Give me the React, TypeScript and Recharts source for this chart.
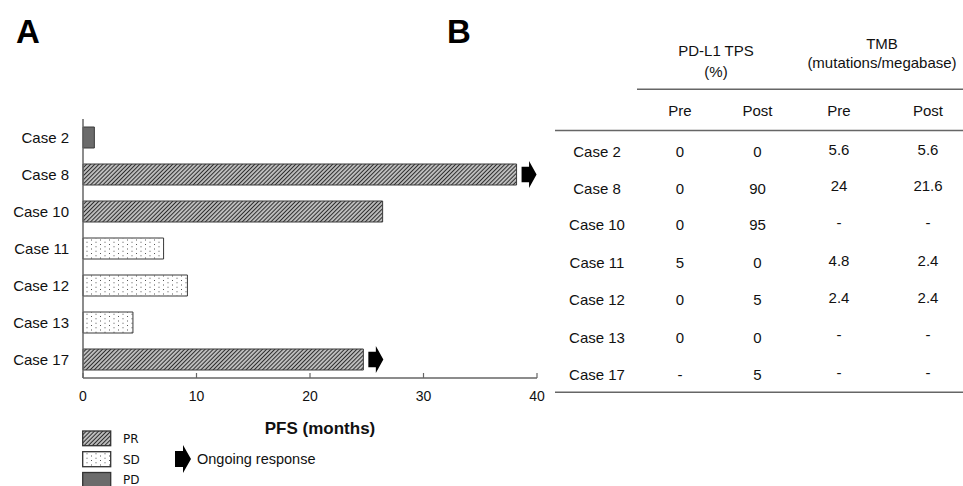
import React from "react";
import { BarChart, Bar, XAxis, YAxis, Cell, LabelList } from "recharts";

// ---- Data ----
const caseNames = ["Case 2", "Case 8", "Case 10", "Case 11", "Case 12", "Case 13", "Case 17"];
const pfsMonths = [1.0, 38.2, 26.4, 7.1, 9.2, 4.4, 24.7];
const responses = ["PD", "PR", "PR", "SD", "SD", "SD", "PR"];
const ongoing = [false, true, false, false, false, false, true];
const xTicks = [0, 10, 20, 30, 40];

const pdl1Pre = ["0", "0", "0", "5", "0", "0", "-"];
const pdl1Post = ["0", "90", "95", "0", "5", "0", "5"];
const tmbPre = ["5.6", "24", "-", "4.8", "2.4", "-", "-"];
const tmbPost = ["5.6", "21.6", "-", "2.4", "2.4", "-", "-"];

const legendItems = ["PR", "SD", "PD"];

const chartData = caseNames.map((name, i) => ({
  name,
  pfs: pfsMonths[i],
  type: responses[i],
  ongoing: ongoing[i],
}));

// ---- Styles ----
const FONT = "'Liberation Sans', Arial, sans-serif";
const TEXT = "#111";
const LINE = "#666";
const fillFor = (t: string, prefix: string) =>
  t === "PR" ? `url(#${prefix}hatch)` : t === "SD" ? `url(#${prefix}dots)` : "#6b6b6b";

const Patterns = ({ prefix }: { prefix: string }) => (
  <defs>
    <pattern id={`${prefix}hatch`} width="2.9" height="2.9" patternUnits="userSpaceOnUse" patternTransform="rotate(45)">
      <rect width="2.9" height="2.9" fill="#bcbcbc" />
      <line x1="0" y1="0" x2="0" y2="2.9" stroke="#1a1a1a" strokeWidth="1.7" />
    </pattern>
    <pattern id={`${prefix}dots`} width="9" height="9" patternUnits="userSpaceOnUse">
      <rect width="9" height="9" fill="#fff" />
      <rect x="1" y="1" width="1" height="1" fill="#555" />
      <rect x="5.5" y="3.25" width="1" height="1" fill="#555" />
      <rect x="1" y="5.5" width="1" height="1" fill="#555" />
      <rect x="5.5" y="7.75" width="1" height="1" fill="#555" />
    </pattern>
  </defs>
);

const arrowPoints = (x0: number, cy: number, w: number, h: number) => {
  const bw = w * 0.5;
  const bh = h * 0.58;
  return [
    [x0, cy - bh / 2],
    [x0 + bw, cy - bh / 2],
    [x0 + bw, cy - h / 2],
    [x0 + w, cy],
    [x0 + bw, cy + h / 2],
    [x0 + bw, cy + bh / 2],
    [x0, cy + bh / 2],
  ]
    .map((p) => p.join(","))
    .join(" ");
};

const OngoingArrow = (props: any) => {
  const { x, y, width, height, value } = props;
  if (!value) return null;
  const x0 = Number(x) + Number(width) + 5;
  const cy = Number(y) + Number(height) / 2;
  return <polygon points={arrowPoints(x0, cy, 15, 27)} fill="#000" />;
};

const colX = [597, 680, 757.5, 839, 928];
const rowY = [151.7, 188.3, 225, 262.7, 300, 337.3, 375];

export default function App() {
  return (
    <div style={{ position: "absolute", left: 0, top: 0, width: 963, height: 486, background: "#fff", fontFamily: FONT }}>
      <BarChart
        width={963}
        height={486}
        data={chartData}
        layout="vertical"
        margin={{ top: 119, right: 426, bottom: 78, left: 13 }}
        style={{ position: "absolute", left: 0, top: 0 }}
      >
        <Patterns prefix="c-" />
        <XAxis
          type="number"
          domain={[0, 40]}
          ticks={xTicks}
          height={30}
          tickSize={-5}
          tickMargin={18}
          axisLine={{ stroke: LINE, strokeWidth: 1.5 }}
          tickLine={{ stroke: LINE, strokeWidth: 1.2 }}
          tick={{ fill: TEXT, fontSize: 14, fontFamily: FONT }}
        />
        <YAxis
          type="category"
          dataKey="name"
          width={70}
          tickLine={false}
          tickMargin={8}
          axisLine={{ stroke: LINE, strokeWidth: 1.5 }}
          tick={{ fill: TEXT, fontSize: 15, fontFamily: FONT }}
        />
        <Bar dataKey="pfs" barSize={21} stroke="#3a3a3a" strokeWidth={1} isAnimationActive={false}>
          {chartData.map((d, i) => (
            <Cell key={i} fill={fillFor(d.type, "c-")} />
          ))}
          <LabelList dataKey="ongoing" content={OngoingArrow} />
        </Bar>
      </BarChart>

      <svg width={963} height={486} style={{ position: "absolute", left: 0, top: 0, pointerEvents: "none" }} fontFamily={FONT}>
        <Patterns prefix="l-" />
        {/* panel letters */}
        <text x={16} y={42.5} fontSize={33} fontWeight="bold" fill="#000">A</text>
        <text x={447} y={42.5} fontSize={33} fontWeight="bold" fill="#000">B</text>

        {/* axis title */}
        <text x={320} y={433.5} fontSize={17} fontWeight="bold" fill={TEXT} textAnchor="middle">PFS (months)</text>

        {/* legend */}
        {legendItems.map((t, i) => {
          const ys = [431, 451.7, 472.5];
          const hs = [14.7, 15, 14.5];
          return (
            <g key={t}>
              <rect x={82.7} y={ys[i]} width={28} height={hs[i]} fill={fillFor(t, "l-")} stroke="#333" strokeWidth={1.3} />
              <text x={123} y={ys[i] + hs[i] / 2 + 4.3} fontSize={12} fill={TEXT} fontFamily="'DejaVu Sans', sans-serif">{t}</text>
            </g>
          );
        })}
        <polygon points={arrowPoints(175, 459, 16, 28)} fill="#000" />
        <text x={197} y={464.3} fontSize={14.5} fill={TEXT}>Ongoing response</text>

        {/* table */}
        <text x={716} y={56} fontSize={15} fill={TEXT} textAnchor="middle">PD-L1 TPS</text>
        <text x={716} y={76.5} fontSize={15} fill={TEXT} textAnchor="middle">(%)</text>
        <text x={882} y={49} fontSize={15} fill={TEXT} textAnchor="middle">TMB</text>
        <text x={882} y={68} fontSize={15} fill={TEXT} textAnchor="middle">(mutations/megabase)</text>
        <line x1={637} x2={963} y1={89.3} y2={89.3} stroke={LINE} strokeWidth={1.5} />
        {["Pre", "Post", "Pre", "Post"].map((h, i) => (
          <text key={i} x={colX[i + 1]} y={115.5} fontSize={15} fill={TEXT} textAnchor="middle">{h}</text>
        ))}
        <line x1={555} x2={963} y1={130.5} y2={130.5} stroke={LINE} strokeWidth={1.5} />
        {caseNames.map((c, r) => (
          <g key={c}>
            <text x={colX[0]} y={rowY[r] + 5.4} fontSize={15} fill={TEXT} textAnchor="middle">{c}</text>
            <text x={colX[1]} y={rowY[r] + 5.4} fontSize={15} fill={TEXT} textAnchor="middle">{pdl1Pre[r]}</text>
            <text x={colX[2]} y={rowY[r] + 5.4} fontSize={15} fill={TEXT} textAnchor="middle">{pdl1Post[r]}</text>
            <text x={colX[3]} y={rowY[r] + 2.9} fontSize={15} fill={TEXT} textAnchor="middle">{tmbPre[r]}</text>
            <text x={colX[4]} y={rowY[r] + 2.9} fontSize={15} fill={TEXT} textAnchor="middle">{tmbPost[r]}</text>
          </g>
        ))}
        <line x1={555} x2={963} y1={392.3} y2={392.3} stroke={LINE} strokeWidth={1.5} />
      </svg>
    </div>
  );
}
